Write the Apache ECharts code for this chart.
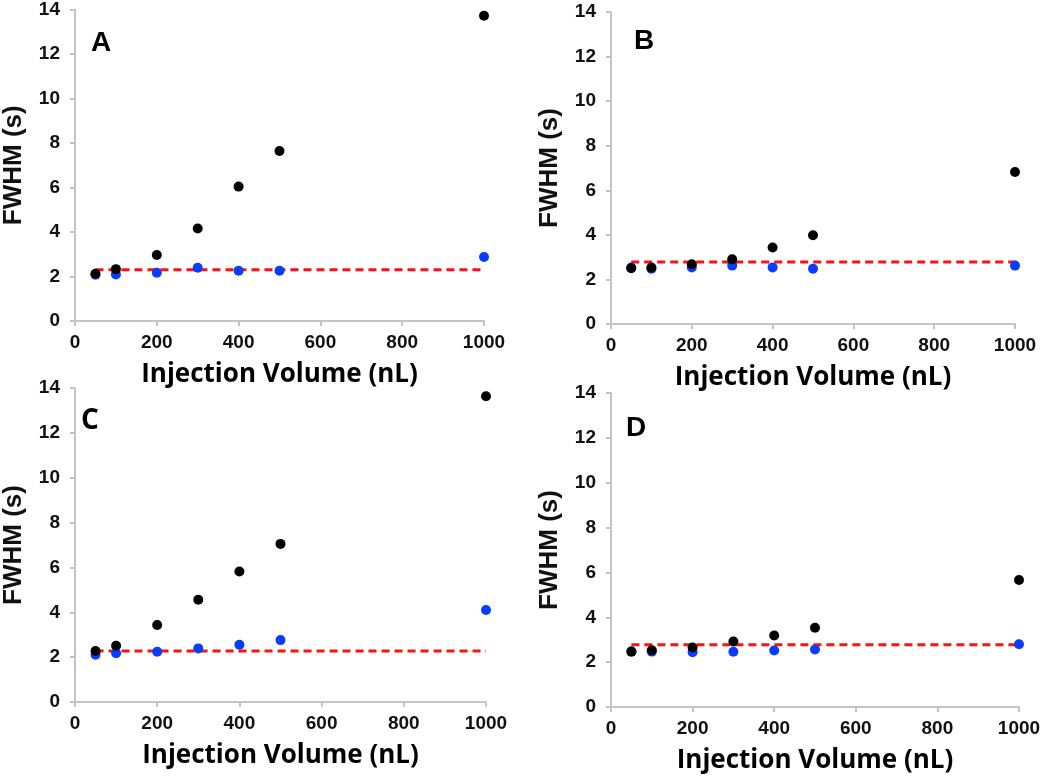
<!DOCTYPE html>
<html>
<head>
<meta charset="utf-8">
<script src="https://cdn.jsdelivr.net/npm/echarts@6/dist/echarts.min.js"></script>
<style>html,body{margin:0;padding:0;background:#fff}#c{width:1050px;height:781px}</style>
</head>
<body>
<div id="c"></div>
<script>
// Data
const volumes = [50, 100, 200, 300, 400, 500, 1000];
const xTicks = [0, 200, 400, 600, 800, 1000];
const yTicks = [0, 2, 4, 6, 8, 10, 12, 14];
const panelLabels = ['A', 'B', 'C', 'D'];

const blackA = [2.12, 2.33, 2.97, 4.16, 6.04, 7.64, 13.72];
const blueA  = [2.08, 2.09, 2.17, 2.39, 2.26, 2.26, 2.88];
const refA = 2.30;

const blackB = [2.50, 2.53, 2.68, 2.90, 3.43, 3.98, 6.82];
const blueB  = [2.53, 2.48, 2.54, 2.62, 2.54, 2.48, 2.62];
const refB = 2.78;

const blackC = [2.27, 2.51, 3.43, 4.56, 5.82, 7.05, 13.63];
const blueC  = [2.11, 2.17, 2.24, 2.39, 2.55, 2.76, 4.10];
const refC = 2.27;

const blackD = [2.47, 2.53, 2.65, 2.92, 3.19, 3.53, 5.66];
const blueD  = [2.47, 2.47, 2.44, 2.46, 2.52, 2.56, 2.80];
const refD = 2.77;

const refStart = 50, refEnd = 1000;

const panels = [
  {black: blackA, blue: blueA, ref: refA},
  {black: blackB, blue: blueB, ref: refB},
  {black: blackC, blue: blueC, ref: refC},
  {black: blackD, blue: blueD, ref: refD}
];

const grids = [
  {left: 75, top: 8, width: 409, height: 313},
  {left: 611, top: 12, width: 404, height: 312},
  {left: 71, top: 388, width: 415, height: 314},
  {left: 611, top: 393, width: 408, height: 314}
];
const letterPos = [
  {left: 91, top: 29, font: 'Liberation Sans'},
  {left: 634, top: 27, font: 'Liberation Sans'},
  {left: 81, top: 407, font: 'Open Sans'},
  {left: 626, top: 414, font: 'Liberation Sans'}
];

const axisColor = '#c4c4c4';
const chart = echarts.init(document.getElementById('c'));
const option = {
  backgroundColor: '#fff',
  animation: false,
  title: panelLabels.map((t, i) => ({
    text: t, left: letterPos[i].left, top: letterPos[i].top, padding: 0,
    textStyle: {fontFamily: letterPos[i].font, fontWeight: 'bold', fontSize: 28, color: '#000'}
  })),
  grid: grids,
  xAxis: grids.map((g, i) => ({
    gridIndex: i, type: 'value', min: xTicks[0], max: xTicks[xTicks.length - 1], interval: xTicks[1] - xTicks[0],
    name: 'Injection Volume (nL)', nameLocation: 'middle', nameGap: 41,
    nameTextStyle: {fontFamily: 'Open Sans', fontWeight: 'bold', fontSize: 26, color: '#000'},
    axisLine: {show: true, lineStyle: {color: axisColor, width: 2}},
    axisTick: {show: true, length: 5, lineStyle: {color: axisColor, width: 2}},
    axisLabel: {fontFamily: 'Liberation Sans', fontWeight: 'bold', fontSize: 19, color: '#111', margin: 12,
      formatter: v => String(v)},
    splitLine: {show: false}
  })),
  yAxis: grids.map((g, i) => ({
    gridIndex: i, type: 'value', min: yTicks[0], max: yTicks[yTicks.length - 1], interval: yTicks[1] - yTicks[0],
    name: 'FWHM (s)', nameLocation: 'middle', nameGap: 48,
    nameTextStyle: {fontFamily: 'Liberation Sans', fontWeight: 'bold', fontSize: 26, color: '#111'},
    axisLine: {show: true, lineStyle: {color: axisColor, width: 2}},
    axisTick: {show: true, length: 5, lineStyle: {color: axisColor, width: 2}},
    axisLabel: {fontFamily: 'Liberation Sans', fontWeight: 'bold', fontSize: 19, color: '#111', margin: 15,
      formatter: v => String(v)},
    splitLine: {show: false}
  })),
  series: []
};
panels.forEach((p, i) => {
  option.series.push({
    type: 'line', xAxisIndex: i, yAxisIndex: i, z: 1, symbol: 'none',
    data: [[refStart, p.ref], [refEnd, p.ref]],
    lineStyle: {color: '#ff1010', width: 3, type: [8, 5]}
  });
  option.series.push({
    type: 'scatter', xAxisIndex: i, yAxisIndex: i, z: 2, symbolSize: 10,
    itemStyle: {color: '#0a3cff', opacity: 1},
    data: volumes.map((v, k) => [v, p.blue[k]])
  });
  option.series.push({
    type: 'scatter', xAxisIndex: i, yAxisIndex: i, z: 3, symbolSize: 10,
    itemStyle: {color: '#000', opacity: 1},
    data: volumes.map((v, k) => [v, p.black[k]])
  });
});
chart.setOption(option);
</script>
</body>
</html>
